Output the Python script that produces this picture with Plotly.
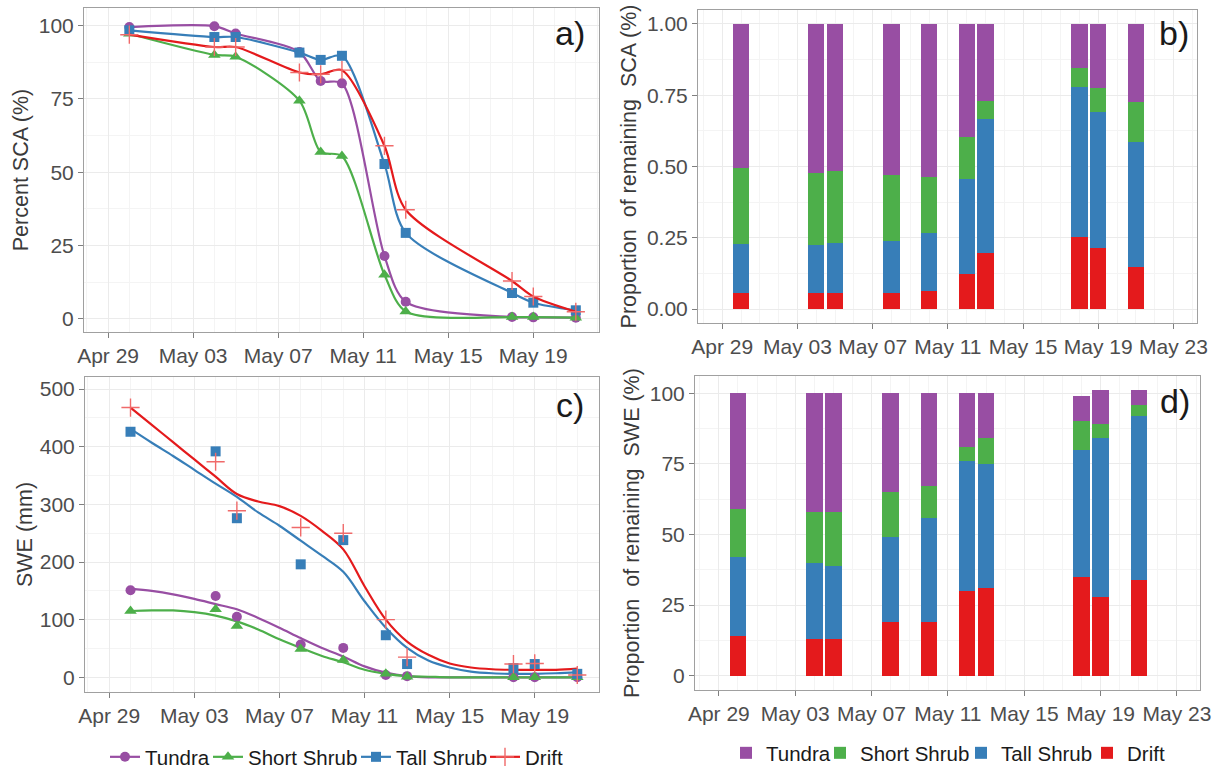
import plotly.graph_objects as go

# ---------------- data ----------------
names = ["Tundra", "Short Shrub", "Tall Shrub", "Drift"]
colors = {"Tundra": "#984EA3", "Short Shrub": "#4DAF4A", "Tall Shrub": "#377EB8", "Drift": "#E41A1C"}
symbols = {"Tundra": "circle", "Short Shrub": "triangle-up", "Tall Shrub": "square", "Drift": "cross-thin"}

# panel a: percent SCA
dates_sca = ["2015-04-30", "2015-05-04", "2015-05-05", "2015-05-08", "2015-05-09", "2015-05-10",
             "2015-05-12", "2015-05-13", "2015-05-18", "2015-05-19", "2015-05-21"]
tundra_sca = [99.5, 99.8, 97.3, 91.0, 81.1, 80.3, 21.4, 5.8, 0.6, 0.5, 0.4]
short_sca = [97.2, 90.0, 89.4, 74.4, 56.9, 55.5, 15.0, 2.5, 0.6, 0.6, 0.4]
tall_sca = [98.4, 96.1, 96.1, 90.8, 88.3, 89.7, 52.8, 29.3, 8.8, 5.5, 2.9]
drift_sca = [96.9, 92.7, 92.7, 84.0, 83.4, 84.8, 59.0, 37.2, 12.9, 7.6, 2.4]

# dates for panels b, c, d
dates_obs = ["2015-04-30", "2015-05-04", "2015-05-05", "2015-05-08", "2015-05-10",
             "2015-05-12", "2015-05-13", "2015-05-18", "2015-05-19", "2015-05-21"]

# panel b: proportion of remaining SCA
tundra_psca = [0.506, 0.522, 0.516, 0.530, 0.536, 0.395, 0.269, 0.154, 0.225, 0.273]
short_psca = [0.267, 0.253, 0.254, 0.233, 0.196, 0.149, 0.063, 0.068, 0.083, 0.140]
tall_psca = [0.172, 0.170, 0.175, 0.182, 0.205, 0.333, 0.470, 0.527, 0.478, 0.438]
drift_psca = [0.055, 0.055, 0.055, 0.055, 0.063, 0.123, 0.198, 0.251, 0.214, 0.149]

# panel c: SWE (mm) observations
tundra_swe = [151, 141, 105, 57, 51, 4, 2, 0, 0, 0]
short_swe = [115, 118, 89, 49, 30, 6, 1, 0, 0, 0]
tall_swe = [426, 392, 276, 196, 238, 73, 23, 16, 23, 6]
drift_swe = [468, 374, 289, 260, 250, 100, 35, 23, 24, 4]

# panel c: smoothed SWE curves
dates_fit = ["2015-04-30", "2015-05-01", "2015-05-02", "2015-05-03", "2015-05-04", "2015-05-05",
             "2015-05-06", "2015-05-07", "2015-05-08", "2015-05-09", "2015-05-10", "2015-05-11",
             "2015-05-12", "2015-05-13", "2015-05-14", "2015-05-15", "2015-05-16", "2015-05-17",
             "2015-05-18", "2015-05-19", "2015-05-20", "2015-05-21"]
tundra_fit = [154, 150, 144, 136, 127, 118, 103, 86, 68, 51, 36, 19, 8, 2, 0, 0, 0, 0, 0, 0, 0, 0]
short_fit = [115, 116, 116, 113, 107, 97, 83, 66, 51, 37, 26, 13, 6, 2, 1, 0, 0, 0, 0, 0, 0, 0]
tall_fit = [431, 407, 384, 360, 336, 313, 286, 263, 237, 211, 183, 132, 86, 51, 29, 17, 10, 7, 6, 6, 7, 9]
drift_fit = [468, 438, 408, 378, 348, 318, 305, 297, 280, 254, 222, 158, 100, 62, 39, 24, 17, 14, 13, 13, 13, 15]

# panel d: proportion of remaining SWE (%)
tundra_pswe = [41, 42, 42, 35, 33, 19, 16, 9, 12, 5]
short_pswe = [17, 18, 19, 16, 11, 5, 9, 10, 5, 4]
tall_pswe = [28, 27, 26, 30, 37, 46, 44, 45, 56, 58]
drift_pswe = [14, 13, 13, 19, 19, 30, 31, 35, 28, 34]

sca = {"Tundra": tundra_sca, "Short Shrub": short_sca, "Tall Shrub": tall_sca, "Drift": drift_sca}
psca = {"Tundra": tundra_psca, "Short Shrub": short_psca, "Tall Shrub": tall_psca, "Drift": drift_psca}
swe = {"Tundra": tundra_swe, "Short Shrub": short_swe, "Tall Shrub": tall_swe, "Drift": drift_swe}
fit = {"Tundra": tundra_fit, "Short Shrub": short_fit, "Tall Shrub": tall_fit, "Drift": drift_fit}
pswe = {"Tundra": tundra_pswe, "Short Shrub": short_pswe, "Tall Shrub": tall_pswe, "Drift": drift_pswe}

# ---------------- styling ----------------
FONT = "Liberation Sans, Arial, sans-serif"
TICKC = "#4d4d4d"
DAY = 86400000
W, H = 1217, 771
msize = {"Tundra": 10, "Short Shrub": 11, "Tall Shrub": 10, "Drift": 13}
CROSS = "#f06a6a"

# one legend per entry so the entries can be packed like the original
line_leg = {"Tundra": "legend", "Short Shrub": "legend3", "Tall Shrub": "legend4", "Drift": "legend5"}
bar_leg = {"Tundra": "legend2", "Short Shrub": "legend6", "Tall Shrub": "legend7", "Drift": "legend8"}
line_leg_x = {"Tundra": 105, "Short Shrub": 208, "Tall Shrub": 356, "Drift": 485}
bar_leg_x = {"Tundra": 726, "Short Shrub": 820, "Tall Shrub": 961, "Drift": 1087}

fig = go.Figure()

# panel a
for n in names:
    fig.add_trace(go.Scatter(
        x=dates_sca, y=sca[n], name=n, mode="lines+markers",
        line=dict(color=colors[n], width=2.2, shape="spline", smoothing=0.8),
        marker=dict(symbol=symbols[n], size=msize[n], color=colors[n],
                    line=dict(color=CROSS if n == "Drift" else colors[n],
                              width=1.4 if n == "Drift" else 0)),
        xaxis="x", yaxis="y", legend=line_leg[n], showlegend=True))

# panel c
for n in names:
    fig.add_trace(go.Scatter(
        x=dates_fit, y=fit[n], mode="lines", showlegend=False,
        line=dict(color=colors[n], width=2.2, shape="spline", smoothing=1.0),
        xaxis="x3", yaxis="y3"))
for n in names:
    fig.add_trace(go.Scatter(
        x=dates_obs, y=swe[n], mode="markers", showlegend=False,
        marker=dict(symbol=symbols[n], size=msize[n], color=colors[n],
                    line=dict(color=CROSS if n == "Drift" else colors[n],
                              width=1.4 if n == "Drift" else 0)),
        xaxis="x3", yaxis="y3"))

# panels b and d (stacked bars: Drift bottom ... Tundra top)
for n in ["Drift", "Tall Shrub", "Short Shrub", "Tundra"]:
    fig.add_trace(go.Bar(
        x=dates_obs, y=psca[n], name=n, marker=dict(color=colors[n], line=dict(width=0)),
        width=0.86 * DAY, xaxis="x2", yaxis="y2", showlegend=False))
    fig.add_trace(go.Bar(
        x=dates_obs, y=pswe[n], name=n, marker=dict(color=colors[n], line=dict(width=0)),
        width=0.86 * DAY, xaxis="x4", yaxis="y4", legend=bar_leg[n], showlegend=True))


def dx(a, b):
    return [a / W, b / W]


def dy(top, bot):
    return [1 - bot / H, 1 - top / H]


def xax(dom, anchor, rng):
    return dict(domain=dom, anchor=anchor, type="date", range=rng,
                tick0="2015-04-29", dtick=4 * DAY, tickformat="%b %d", tickangle=0,
                showgrid=True, gridcolor="#ebebeb", gridwidth=1,
                minor=dict(showgrid=True, gridcolor="#f4f4f4", dtick=DAY, tick0="2015-04-29"),
                showline=True, mirror=True, linecolor="#a0a0a0", linewidth=1,
                ticks="outside", ticklen=5, tickcolor="#7f7f7f",
                tickfont=dict(family=FONT, size=21, color=TICKC), zeroline=False)


def yax(dom, anchor, rng, dtick, title, fmt=None, standoff=4):
    d = dict(domain=dom, anchor=anchor, range=rng, dtick=dtick, tick0=0,
             showgrid=True, gridcolor="#ebebeb", gridwidth=1,
             minor=dict(showgrid=True, gridcolor="#f4f4f4", dtick=dtick / 2),
             showline=True, mirror=True, linecolor="#a0a0a0", linewidth=1,
             ticks="outside", ticklen=5, tickcolor="#7f7f7f",
             tickfont=dict(family=FONT, size=21, color=TICKC), zeroline=False,
             title=dict(text=title, font=dict(family=FONT, size=21.5, color="#3a3a3a"), standoff=standoff))
    if fmt:
        d["tickformat"] = fmt
    return d


layout = dict(
    width=W, height=H, margin=dict(l=0, r=0, t=0, b=0, autoexpand=False),
    paper_bgcolor="white", plot_bgcolor="white",
    barmode="stack", bargap=0,
    font=dict(family=FONT, color="#1a1a1a"),
    xaxis=xax(dx(84, 599), "y", ["2015-04-27 20:50", "2015-05-22 02:10"]),
    yaxis=yax(dy(8, 332), "x", [-4.5, 106], 25, "Percent SCA (%)"),
    xaxis2=xax(dx(698, 1197), "y2", ["2015-04-27 17:00", "2015-05-24 06:00"]),
    yaxis2=yax(dy(10, 323), "x2", [-0.049, 1.049], 0.25, "Proportion  of remaining  SCA (%)", ".2f"),
    xaxis3=xax(dx(85, 599), "y3", ["2015-04-27 20:40", "2015-05-22 00:30"]),
    yaxis3=yax(dy(377, 692), "x3", [-25.5, 521], 100, "SWE (mm)", standoff=1),
    xaxis4=xax(dx(695, 1200), "y4", ["2015-04-27 18:00", "2015-05-24 05:00"]),
    yaxis4=yax(dy(376, 690), "x4", [-5.07, 106.1], 25, "Proportion  of remaining  SWE (%)"),
)
for n in names:
    layout[line_leg[n]] = dict(orientation="h", x=line_leg_x[n] / W, xanchor="left",
                               y=1 - 757 / H, yanchor="middle",
                               font=dict(family=FONT, size=20.5, color="#1a1a1a"),
                               bgcolor="rgba(0,0,0,0)", itemwidth=30)
    layout[bar_leg[n]] = dict(orientation="h", x=bar_leg_x[n] / W, xanchor="left",
                              y=1 - 753 / H, yanchor="middle",
                              font=dict(family=FONT, size=20.5, color="#1a1a1a"),
                              bgcolor="rgba(0,0,0,0)", itemwidth=30)
fig.update_layout(**layout)

labels = [("a)", "x", "y", 0.977, 0.923), ("b)", "x2", "y2", 0.988, 0.927),
          ("c)", "x3", "y3", 0.975, 0.911), ("d)", "x4", "y4", 0.984, 0.92)]
for t, xa, ya, xx, yy in labels:
    fig.add_annotation(text=t, xref=xa + " domain", yref=ya + " domain", x=xx, y=yy,
                       xanchor="right", yanchor="middle", showarrow=False,
                       font=dict(family=FONT, size=34, color="#1a1a1a"))

fig.write_html("out.html", config={"displayModeBar": False},
               post_script="document.body.style.margin='0';document.body.style.overflow='hidden';")
